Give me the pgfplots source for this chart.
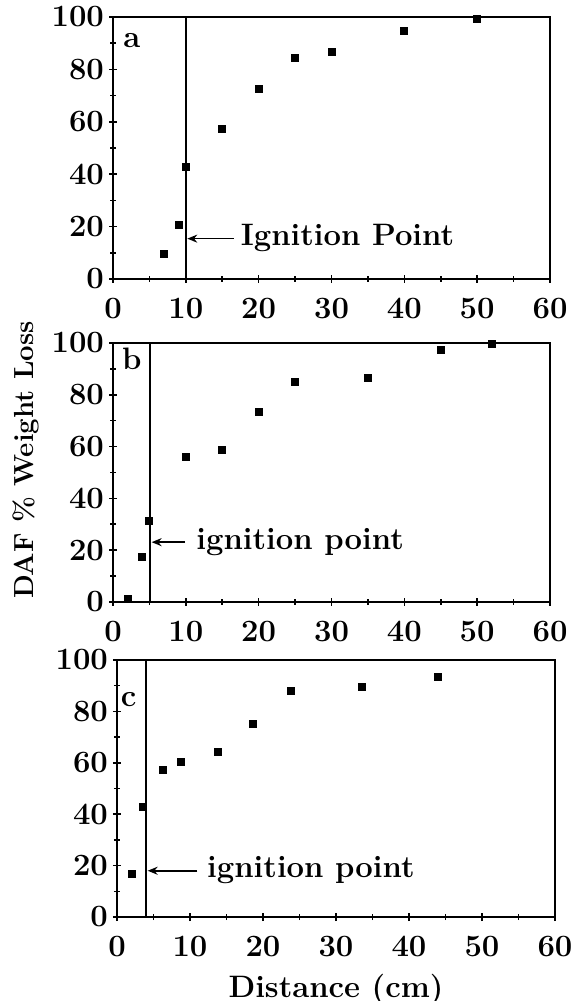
\documentclass[border=0pt]{standalone}
\usepackage{pgfplots}
\pgfplotsset{compat=1.18}
\usetikzlibrary{arrows.meta}
\newcommand\ff{\fontsize{15.5}{17}\selectfont\bfseries}
\pgfplotstableread{
x y
7 9.5
9 20.7
10 42.6
15 57.4
20 72.4
25 84.5
30 86.8
40 94.7
50 99.1
}\dataA
\pgfplotstableread{
x y
2 1.3
3.9 17.4
4.9 31.2
10 55.9
15 58.7
20 73.3
25 84.8
35 86.4
45 97.3
52 99.6
}\dataB
\pgfplotstableread{
x y
2 16.7
3.6 43
6.3 57.3
8.8 60.2
13.8 64.1
18.6 75.1
23.8 88.1
33.6 89.6
43.9 93.5
}\dataC
\begin{document}
\begin{tikzpicture}
\useasboundingbox (0pt,0pt) rectangle (286.5pt,500.5pt);
\pgfplotsset{
  panel/.style={
    scale only axis, width=218.5pt,
    xmin=0,xmax=60,ymin=0,ymax=100,
    xtick={0,10,...,60}, ytick={0,20,...,100},
    minor x tick num=1, minor y tick num=1,
    axis line style={line width=1.2pt},
    tick style={black, line width=0.8pt},
    major tick length=4pt, minor tick length=3pt,
    tick align=center,
    xtick pos=bottom, ytick pos=left,
    /pgf/number format/assume math mode=true,
    tick label style={font=\ff},
    xticklabel style={yshift=-4pt},
    yticklabel style={xshift=1pt},
    label style={font=\ff},
    clip=false,
  },
  pts/.style={only marks, mark=square*, mark size=1.75pt, black},
}
% panel a
\begin{axis}[panel, at={(56.5pt,361pt)}, anchor=south west, height=131pt]
\addplot[pts] table[x=x,y=y]{\dataA};
\draw[line width=0.9pt] (axis cs:10,0) -- (axis cs:10,100);
\draw[-{Stealth[length=5pt,width=4pt]}, line width=0.8pt] (axis cs:16.6,15.4) -- (axis cs:10.2,15.4);
\node[anchor=west, font=\ff, inner sep=0pt] at (axis cs:17.5,15.6) {Ignition Point};
\node[font=\ff] at (axis cs:2.6,91) {a};
\end{axis}
% panel b
\begin{axis}[panel, at={(56.5pt,199.5pt)}, anchor=south west, height=129.5pt,
  ylabel={DAF \% Weight Loss},
  ylabel style={at={(axis description cs:-0.2,0.548)}, anchor=center, font=\fontsize{13.8}{15}\selectfont\bfseries}]
\addplot[pts] table[x=x,y=y]{\dataB};
\draw[line width=0.9pt] (axis cs:5.1,0) -- (axis cs:5.1,100);
\draw[-{Stealth[length=5pt,width=4pt]}, line width=0.8pt] (axis cs:9.9,23.1) -- (axis cs:5.3,23.1);
\node[anchor=west, font=\ff, inner sep=0pt] at (axis cs:11.4,23.3) {ignition point};
\node[font=\ff] at (axis cs:2.6,94) {b};
\end{axis}
% panel c
\begin{axis}[panel, at={(58.5pt,42pt)}, anchor=south west, height=128.5pt, width=219pt,
  xlabel={Distance (cm)},
  xlabel style={at={(axis description cs:0.5,0)}, anchor=center, yshift=-36.5pt}]
\addplot[pts] table[x=x,y=y]{\dataC};
\draw[line width=0.9pt] (axis cs:4.0,0) -- (axis cs:4.0,100);
\draw[-{Stealth[length=5pt,width=4pt]}, line width=0.8pt] (axis cs:11,18) -- (axis cs:4.2,18);
\node[anchor=west, font=\ff, inner sep=0pt] at (axis cs:12.3,18.3) {ignition point};
\node[font=\ff] at (axis cs:1.6,84.5) {c};
\end{axis}
\end{tikzpicture}
\end{document}
